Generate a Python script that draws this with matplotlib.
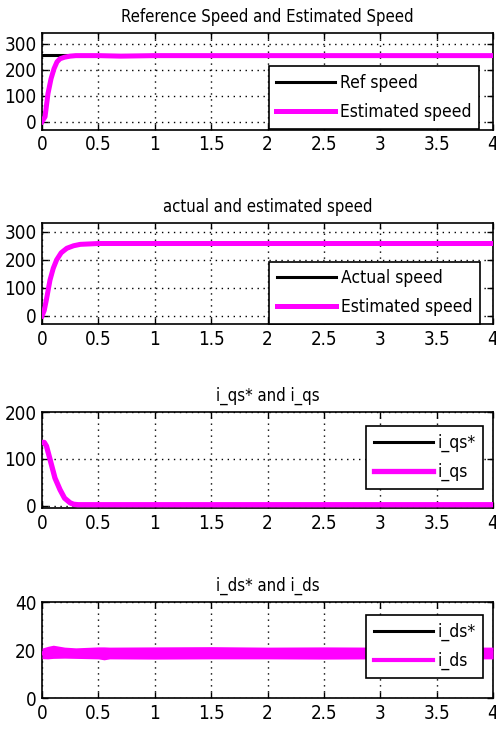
import matplotlib
matplotlib.use("Agg")
import matplotlib.pyplot as plt

plt.rcParams["font.family"] = ["DejaVu Sans"]
plt.rcParams["font.stretch"] = "condensed"

MAGENTA = "#ff00ff"
BLACK = "#000000"

# ---- speed loop: reference vs estimated ----
t_ref1 = [0.0, 4.0]
ref_speed = [255, 255]
t_est1 = [0.0, 0.027, 0.053, 0.08, 0.107, 0.133, 0.16, 0.2, 0.25, 0.3, 0.5, 0.7, 1.0, 2.0, 3.0, 4.0]
est_speed1 = [0, 19, 108, 165, 204, 230, 242, 248, 252, 254, 254, 252, 254, 254, 254, 254]

# ---- actual vs estimated speed ----
t2 = [0.0, 0.02, 0.04, 0.071, 0.1, 0.13, 0.17, 0.22, 0.28, 0.34, 0.5, 1.0, 2.0, 3.0, 4.0]
actual_speed = [0, 18, 58, 126, 168, 198, 224, 240, 250, 256, 258, 258, 258, 258, 258]
est_speed2 = [0, 20, 60, 128, 170, 200, 225, 241, 250, 255, 258, 258, 258, 258, 258]

# ---- q-axis current ----
t3 = [0.0, 0.02, 0.04, 0.071, 0.115, 0.16, 0.2, 0.25, 0.28, 0.32, 0.5, 1.0, 2.0, 3.0, 4.0]
iqs_ref = [135, 134, 126, 98, 58, 33, 15, 5, 2, 2, 2, 2, 2, 2, 2]
iqs = [135, 135, 127, 99, 59, 34, 16, 6, 3, 2, 2, 2, 2, 2, 2]

# ---- d-axis current (ripple band) ----
t4 = [0.0, 0.05, 0.1, 0.2, 0.3, 0.5, 0.55, 0.6, 1.0, 1.5, 2.0, 2.5, 3.0, 3.5, 4.0]
ids_ref = [18.5] * len(t4)
ids_upper = [20.8, 21.5, 22.0, 21.2, 20.9, 21.3, 21.3, 21.2, 21.3, 21.4, 21.2, 21.3, 21.2, 21.3, 21.2]
ids_lower = [16.4, 16.3, 16.5, 16.6, 16.5, 16.3, 15.9, 16.3, 16.2, 16.3, 16.3, 16.2, 16.3, 16.3, 16.3]
ids_mid = [18.6, 18.9, 19.2, 18.9, 18.7, 18.8, 18.6, 18.7, 18.7, 18.8, 18.7, 18.7, 18.7, 18.8, 18.7]

x_ticks = [0, 0.5, 1, 1.5, 2, 2.5, 3, 3.5, 4]
x_labels = ["0", "0.5", "1", "1.5", "2", "2.5", "3", "3.5", "4"]

W, H = 496, 729
fig = plt.figure(figsize=(W / 100, H / 100), dpi=100)
fig.patch.set_facecolor("white")


def make_axes(top_px, bottom_px):
    left_px, right_px = 42, 493
    return fig.add_axes([left_px / W, 1 - bottom_px / H,
                         (right_px - left_px) / W, (bottom_px - top_px) / H])


def style(ax, title, ylim, yticks):
    ax.set_xlim(0, 4)
    ax.set_ylim(*ylim)
    ax.set_xticks(x_ticks)
    ax.set_xticklabels(x_labels)
    ax.set_yticks(yticks)
    ax.set_yticklabels([str(v) for v in yticks])
    ax.tick_params(direction="in", length=4, width=1, top=True, right=True,
                   labelsize=13.5, pad=4, colors=BLACK)
    ax.grid(True, color=BLACK, linestyle=(0, (1, 3.3)), linewidth=1.0)
    for s in ax.spines.values():
        s.set_linewidth(1.2)
        s.set_color(BLACK)
    ax.set_title(title, fontsize=12, pad=8)


def legend(ax, anchor):
    leg = ax.legend(loc="lower right", bbox_to_anchor=anchor, borderaxespad=0,
                    fontsize=12.5, handlelength=3.4, handletextpad=0.25,
                    labelspacing=0.62, borderpad=0.45, fancybox=False,
                    framealpha=1, edgecolor=BLACK)
    leg.get_frame().set_linewidth(1.2)
    leg.set_zorder(5)
    return leg


# Panel 1
ax1 = make_axes(33, 129.5)
ax1.plot(t_ref1, ref_speed, color=BLACK, lw=2.2, label="Ref speed", zorder=3)
ax1.plot(t_est1, est_speed1, color=MAGENTA, lw=3.6, label="Estimated speed", zorder=3)
style(ax1, "Reference Speed and Estimated Speed", (-30, 341), [0, 100, 200, 300])
legend(ax1, (0.969, 0.01))

# Panel 2
ax2 = make_axes(223, 324)
ax2.plot(t2, actual_speed, color=BLACK, lw=2.2, label="Actual speed", zorder=3)
ax2.plot(t2, est_speed2, color=MAGENTA, lw=3.6, label="Estimated speed", zorder=3)
style(ax2, "actual and estimated speed", (-28.5, 331), [0, 100, 200, 300])
legend(ax2, (0.971, 0.0))

# Panel 3
ax3 = make_axes(412, 508)
ax3.plot(t3, iqs_ref, color=BLACK, lw=2.2, label="i_qs*", zorder=3)
ax3.plot(t3, iqs, color=MAGENTA, lw=3.8, label="i_qs", zorder=3)
style(ax3, "i_qs* and i_qs", (-5, 200), [0, 100, 200])
legend(ax3, (0.978, 0.198))

# Panel 4
ax4 = make_axes(602, 698)
ax4.plot(t4, ids_ref, color=BLACK, lw=2.2, label="i_ds*", zorder=3)
ax4.fill_between(t4, ids_lower, ids_upper, color=MAGENTA, lw=0, zorder=3)
ax4.plot(t4, ids_mid, color=MAGENTA, lw=3.0, label="i_ds", zorder=3)
style(ax4, "i_ds* and i_ds", (0, 40), [0, 20, 40])
legend(ax4, (0.978, 0.208))

fig.savefig("out.png", dpi=100, facecolor="white")
